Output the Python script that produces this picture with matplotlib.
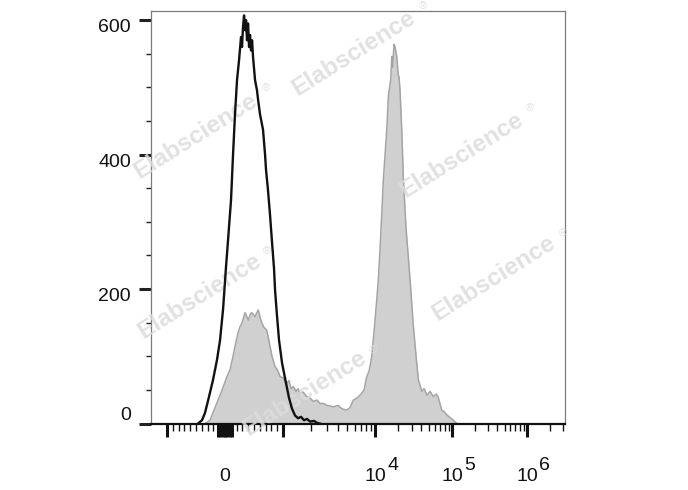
import numpy as np
import matplotlib
matplotlib.use("Agg")
import matplotlib.pyplot as plt

plt.rcParams['font.family'] = ['Liberation Sans', 'DejaVu Sans']

# ---------------- data ----------------
# unstained control (black outline)
ctrl_x = [-466, -397, -345, -276, -207, -138, -86, -34, 17, 52,
          103, 138, 172, 207, 241, 276, 293, 310, 328, 345,
          362, 379, 397, 414, 431, 448, 466, 483, 517, 552,
          569, 603, 655, 690, 707, 741, 776, 810, 845, 862,
          896, 931, 983, 1078, 1162, 1253, 1350, 1455, 1569, 1692,
          1823, 1966, 2173, 2342, 2525]
ctrl_y = [0, 5, 16, 40, 65, 95, 124, 170, 233, 273,
          332, 400, 460, 511, 540, 575, 560, 590, 607, 585,
          600, 570, 595, 560, 578, 555, 570, 545, 511, 495,
          482, 460, 437, 400, 377, 347, 310, 270, 230, 199,
          160, 124, 90, 60, 38, 22, 12, 8, 10, 5,
          7, 3, 4, 1, 0]

# stained sample (grey filled)
stain_x = [-345, -259, -143, -86, -29, 34, 86, 138, 172, 224,
           259, 293, 345, 402, 431, 460, 517, 543, 574, 603,
           633, 672, 719, 776, 810, 862, 914, 948, 1000, 1097,
           1162, 1222, 1294, 1384, 1455, 1530, 1650, 1809, 1966, 2135,
           2342, 2525, 2742, 3008, 3522, 3962, 4378, 4925, 5349, 5809,
           6373, 7168, 7594, 8124, 8606, 9208, 10000, 11040, 11965, 12820,
           14190, 14880, 15990, 16480, 16880, 17650, 18190, 19130, 19900, 20500,
           21120, 21570, 22230, 23320, 25270, 28480, 31160, 34090, 36510, 40420,
           43290, 47350, 51800, 57170, 61960, 65800, 73480, 78740, 85370, 94200,
           104100, 115550]
stain_y = [0, 5, 30, 42, 55, 70, 80, 100, 115, 135,
           144, 150, 165, 154, 162, 165, 159, 164, 169, 158,
           150, 143, 139, 115, 100, 85, 78, 70, 68, 60,
           64, 52, 55, 48, 52, 45, 47, 40, 38, 33,
           35, 30, 30, 27, 25, 27, 22, 20, 24, 35,
           38, 45, 50, 70, 78, 100, 154, 214, 290, 363,
           437, 487, 512, 546, 530, 564, 560, 546, 520, 515,
           495, 470, 437, 363, 290, 214, 150, 100, 65, 48,
           52, 42, 48, 40, 44, 40, 20, 18, 13, 9,
           5, 0]

y_major = [0, 200, 400, 600]
y_labels = ['0', '200', '400', '600']
x_label_ticks = [0, 1e4, 1e5, 1e6]
x_label_exps = ['', '4', '5', '6']

# ---------------- biexponential-like axis scale ----------------
_LOG = [3, 4, 5, 6, 7]
_POS = [283.0, 375.0, 452.0, 527.0, 602.0]


def _fwd(x):
    x = np.asarray(x, dtype=float)
    lin = 225.0 + 0.058 * x
    lg = np.interp(np.log10(np.clip(x, 1e3, None)), _LOG, _POS)
    return np.where(x <= 1e3, lin, lg)


def _inv(p):
    p = np.asarray(p, dtype=float)
    lin = (p - 225.0) / 0.058
    lg = 10.0 ** np.interp(p, _POS, _LOG)
    return np.where(p <= 283.0, lin, lg)


W, H = 688, 490
fig = plt.figure(figsize=(W / 100, H / 100), dpi=100)
ax = fig.add_axes([151 / W, 1 - 423.6 / H, (565 - 151) / W, (423.6 - 10.7) / H])
ax.set_xscale('function', functions=(_fwd, _inv))
ax.set_xlim(-1276, 3.2e6)
ax.set_ylim(0, 614)

ax.fill_between(stain_x, stain_y, 0, color='#d0d0d0', lw=0, zorder=1)
ax.plot(stain_x, stain_y, color='#a4a4a4', lw=1.1, zorder=2)
ax.plot(ctrl_x, ctrl_y, color='#111111', lw=1.7, zorder=4)

# ticks
x_major = [-1e3, -120, -80, -40, 0, 40, 80, 120, 1e3, 1e4, 1e5, 1e6]
x_minor = [s * k * 100 for k in range(1, 10) for s in (-1, 1)]
x_minor += [m * 10 ** e for e in (3, 4, 5) for m in range(2, 10)]
x_minor += [2e6, 3e6]
ax.set_xticks(x_major)
ax.set_xticks(x_minor, minor=True)
ax.set_yticks(y_major)
ax.set_yticks(np.arange(50, 614, 50), minor=True)
ax.tick_params(axis='x', which='major', direction='out', length=9.4, width=2.2,
               color='#111111', labelbottom=False)
ax.tick_params(axis='x', which='minor', direction='out', length=5, width=1.0,
               color='#111111')
ax.tick_params(axis='y', which='major', direction='out', length=8.5, width=2.2,
               color='#222222', labelleft=False)
ax.tick_params(axis='y', which='minor', direction='out', length=3.8, width=1.0,
               color='#222222')

for s in ('left', 'top', 'right'):
    ax.spines[s].set_color('#7a7a7a')
    ax.spines[s].set_linewidth(0.9)
ax.spines['bottom'].set_color('#111111')
ax.spines['bottom'].set_linewidth(1.6)

# y tick labels (as in the reference, slightly offset from ticks)
ytr = ax.get_yaxis_transform()
for v, lbl in zip(y_major, y_labels):
    dy = 8.6 if v == 0 else -7.5
    ax.annotate(lbl, xy=(0, v), xycoords=ytr, xytext=(-20, dy),
                textcoords='offset pixels', ha='right', va='center',
                fontsize=14, color='#111111', annotation_clip=False)

# x tick labels
xtr = ax.get_xaxis_transform()
for v, e in zip(x_label_ticks, x_label_exps):
    if e == '':
        ax.annotate('0', xy=(v, 0), xycoords=xtr, xytext=(0, -57.4),
                    textcoords='offset pixels', ha='center', va='baseline',
                    fontsize=14, color='#111111', annotation_clip=False)
    else:
        ax.annotate('10', xy=(v, 0), xycoords=xtr, xytext=(0, -57.4),
                    textcoords='offset pixels', ha='center', va='baseline',
                    fontsize=14, color='#111111', annotation_clip=False)
        ax.annotate(e, xy=(v, 0), xycoords=xtr, xytext=(12, -46.4),
                    textcoords='offset pixels', ha='left', va='baseline',
                    fontsize=14, color='#111111', annotation_clip=False)

# watermarks
wm = [(354, 53, 423, 6), (196, 136, 266, 88), (462, 155, 530, 108),
      (200, 296, 267, 251), (494, 278, 563, 233), (305, 393, 373, 350)]
for cx, cy, rx, ry in wm:
    ax.text(cx / W, 1 - cy / H, 'Elabscience', transform=fig.transFigure,
            rotation=32, rotation_mode='anchor', ha='center', va='center',
            fontsize=17.5, fontweight='bold', color='#dcdcdc', alpha=0.85,
            zorder=3, clip_on=False)
    ax.text(rx / W, 1 - ry / H, '\u00ae', transform=fig.transFigure,
            ha='center', va='center', fontsize=8, color='#dcdcdc', alpha=0.85,
            zorder=3, clip_on=False)

fig.savefig('out.png', dpi=100)
